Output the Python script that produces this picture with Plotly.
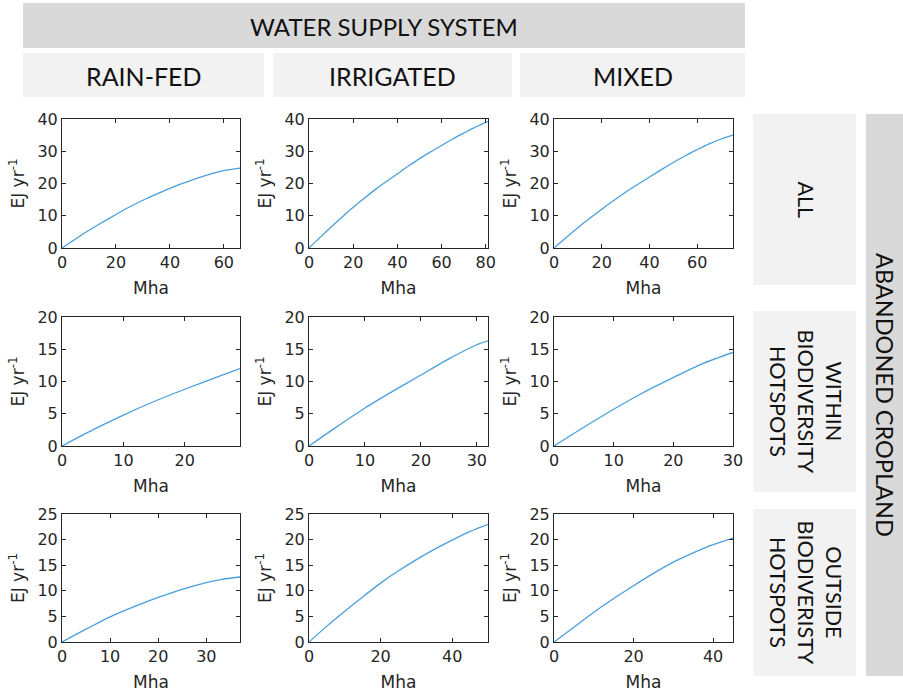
import plotly.graph_objects as go
from plotly.subplots import make_subplots

W, H = 903, 692

# Column / row headings
supply_title = "WATER SUPPLY SYSTEM"
supply_systems = ["RAIN-FED", "IRRIGATED", "MIXED"]
land_title = "ABANDONED CROPLAND"
land_groups = ["ALL", "WITHIN<br>BIODIVERSITY<br>HOTSPOTS", "OUTSIDE<br>BIODIVERISTY<br>HOTSPOTS"]

# Cumulative area (Mha) and bioenergy potential (EJ yr-1), per land group / supply system
all_rainfed_x = [0, 5, 10, 15, 20, 25, 30, 35, 40, 45, 50, 55, 60, 66]
all_rainfed_y = [0, 2.8, 5.5, 8.0, 10.4, 12.7, 14.8, 16.7, 18.5, 20.1, 21.6, 22.9, 24.0, 24.8]
all_irrigated_x = [0, 5, 10, 15, 20, 25, 30, 35, 40, 45, 50, 55, 60, 65, 70, 75, 81]
all_irrigated_y = [0, 3.3, 6.5, 9.6, 12.6, 15.4, 18.1, 20.6, 23.0, 25.4, 27.7, 29.8, 31.8, 33.8, 35.6, 37.4, 39.3]
all_mixed_x = [0, 5, 10, 15, 20, 25, 30, 35, 40, 45, 50, 55, 60, 65, 70, 75]
all_mixed_y = [0, 3.2, 6.3, 9.2, 12.0, 14.7, 17.3, 19.7, 22.0, 24.3, 26.5, 28.6, 30.5, 32.3, 33.8, 35.0]

within_rainfed_x = [0, 5, 10, 15, 20, 25, 29]
within_rainfed_y = [0, 2.5, 4.8, 6.9, 8.8, 10.6, 12.0]
within_irrigated_x = [0, 5, 10, 15, 20, 25, 30, 32]
within_irrigated_y = [0, 3.0, 5.9, 8.5, 11.0, 13.5, 15.7, 16.3]
within_mixed_x = [0, 5, 10, 15, 20, 25, 30]
within_mixed_y = [0, 2.9, 5.7, 8.3, 10.6, 12.8, 14.5]

outside_rainfed_x = [0, 5, 10, 15, 20, 25, 30, 33, 37]
outside_rainfed_y = [0, 2.5, 4.9, 6.9, 8.7, 10.3, 11.6, 12.2, 12.7]
outside_irrigated_x = [0, 5, 10, 15, 20, 25, 30, 35, 40, 45, 50]
outside_irrigated_y = [0, 3.1, 6.0, 8.8, 11.5, 13.9, 16.1, 18.1, 19.9, 21.6, 23.0]
outside_mixed_x = [0, 5, 10, 15, 20, 25, 30, 35, 40, 45]
outside_mixed_y = [0, 2.9, 5.8, 8.5, 11.0, 13.4, 15.6, 17.4, 19.0, 20.3]

series = [
    [(all_rainfed_x, all_rainfed_y), (all_irrigated_x, all_irrigated_y), (all_mixed_x, all_mixed_y)],
    [(within_rainfed_x, within_rainfed_y), (within_irrigated_x, within_irrigated_y), (within_mixed_x, within_mixed_y)],
    [(outside_rainfed_x, outside_rainfed_y), (outside_irrigated_x, outside_irrigated_y), (outside_mixed_x, outside_mixed_y)],
]

# Axis limits and tick spacing
y_max = [40, 20, 25]
y_step = [10, 5, 5]
x_step = [[20, 20, 20], [10, 10, 10], [10, 20, 20]]

# Panel placement in pixels
col_px = [(62, 240), (309, 488), (554, 733)]
row_px = [(119, 248), (317, 446), (514, 642)]

LINE = "#4a9fdc"
INK = "#262626"
AX_FONT = "DejaVu Sans"
HEAD_FONT = "Lato"

fig = make_subplots(rows=3, cols=3)

for r in range(3):
    for c in range(3):
        xs, ys = series[r][c]
        fig.add_trace(go.Scatter(x=xs, y=ys, mode="lines",
                                 line=dict(color=LINE, width=1.3, shape="spline", smoothing=0.8),
                                 showlegend=False, hoverinfo="x+y"), row=r + 1, col=c + 1)
        x0, x1 = col_px[c]
        y0, y1 = row_px[r]
        common = dict(showgrid=False, zeroline=False, showline=True, linecolor=INK, linewidth=1,
                      mirror="ticks", ticks="inside", ticklen=4, tickcolor=INK, automargin=False,
                      tickfont=dict(family=AX_FONT, size=16, color=INK))
        fig.update_xaxes(domain=[x0 / W, x1 / W], range=[0, xs[-1]], dtick=x_step[r][c], tick0=0,
                         title=dict(text="Mha", font=dict(family=AX_FONT, size=17, color=INK), standoff=10),
                         row=r + 1, col=c + 1, **common)
        fig.update_yaxes(domain=[1 - y1 / H, 1 - y0 / H], range=[0, y_max[r]], dtick=y_step[r], tick0=0,
                         title=dict(text="EJ yr<sup>-1</sup>", font=dict(family=AX_FONT, size=17, color=INK),
                                    standoff=8),
                         row=r + 1, col=c + 1, **common)

shapes = []
annotations = []


def box(x0, y0, x1, y1, fill):
    shapes.append(dict(type="rect", xref="paper", yref="paper", x0=x0 / W, x1=x1 / W,
                       y0=1 - y1 / H, y1=1 - y0 / H, fillcolor=fill, line=dict(width=0), layer="below"))


def label(text, x, y, size, angle=0):
    annotations.append(dict(text=text, xref="paper", yref="paper", x=x / W, y=1 - y / H,
                            xanchor="center", yanchor="middle", showarrow=False, textangle=angle,
                            font=dict(family=HEAD_FONT, size=size, color="#111111")))


# Top heading and supply system headings
box(23, 3, 745, 48, "#d9d9d9")
label(supply_title, 384, 26, 24)
head_px = [(23, 264), (273, 512), (520, 745)]
for (a, b), name in zip(head_px, supply_systems):
    box(a, 53, b, 97, "#f2f2f2")
    label(name, (a + b) / 2, 76, 25)

# Right-hand land group headings
side_px = [(114, 285), (311, 492), (509, 676)]
for (a, b), name in zip(side_px, land_groups):
    box(753, a, 856, b, "#f2f2f2")
    label(name, 806, (a + b) / 2, 21.5, angle=90)

box(866, 114, 903, 676, "#d9d9d9")
label(land_title, 885, 395, 23.5, angle=90)

fig.update_layout(width=W, height=H, margin=dict(l=0, r=0, t=0, b=0),
                  paper_bgcolor="white", plot_bgcolor="white",
                  shapes=shapes, annotations=annotations)

fig.write_html("out.html")
